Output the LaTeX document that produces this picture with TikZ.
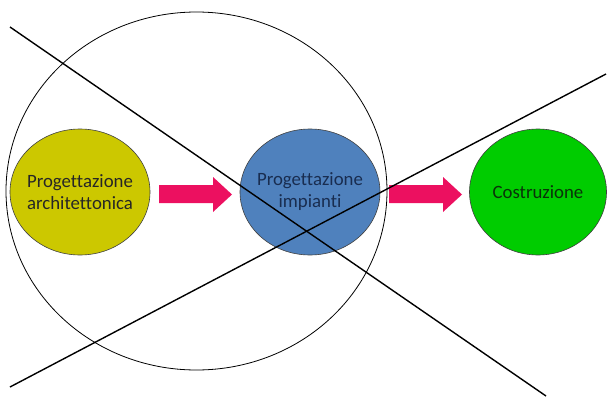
\documentclass[tikz,border=0pt]{standalone}
\usepackage{fontspec}
\setmainfont[Ligatures=NoCommon]{Carlito}
\usetikzlibrary{shapes.geometric}
\definecolor{ylw}{RGB}{204,200,0}
\definecolor{blu}{RGB}{79,129,189}
\definecolor{grn}{RGB}{0,204,0}
\definecolor{pnk}{RGB}{236,16,96}
\begin{document}
\begin{tikzpicture}[x=1pt,y=-1pt,
  blob/.style={ellipse,draw=black!75,line width=0.6pt,minimum width=140pt,minimum height=126pt,inner sep=0pt},
  lbl/.style={align=center,font=\fontsize{18.8}{22}\selectfont,inner sep=0pt},
  blockarrow/.style={fill=pnk,draw=none},
  xline/.style={line width=1.4pt,black}]
\useasboundingbox (0,0) rectangle (608,399);
\draw[line width=0.8pt] (196.5,191) ellipse [x radius=190.5pt,y radius=179pt];
\node[blob,fill=ylw] (a) at (80,192) {};
\node[lbl,text=black!85] (ta) at (a.center) {Progettazione\\architettonica};
\node[blob,fill=blu] (b) at (310,192) {};
\node[lbl,text={rgb,255:red,25;green,45;blue,80}] (tb) at (b.center) {Progettazione\\impianti};
\node[blob,fill=grn,minimum width=137pt] (c) at (538,192) {};
\node[lbl,text={rgb,255:red,10;green,50;blue,10}] (tc) at (c.center) {Costruzione};
\fill[blockarrow] (159,185) -- (213,185) -- (213,177) -- (232,194.5) -- (213,212) -- (213,203) -- (159,203) -- cycle;
\fill[blockarrow] (389,185) -- (443,185) -- (443,177) -- (462,194.5) -- (443,212) -- (443,203) -- (389,203) -- cycle;
\coordinate (p1) at (10,27);
\coordinate (p2) at (546,396);
\coordinate (q1) at (10,387);
\coordinate (q2) at (606,74);
\draw[xline] (p1) -- (p2);
\draw[xline] (q1) -- (q2);
\end{tikzpicture}
\end{document}
